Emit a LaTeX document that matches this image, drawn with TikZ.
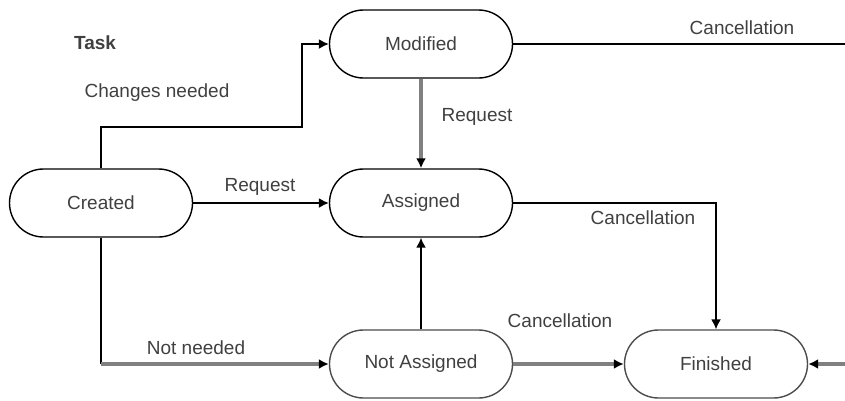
\documentclass[tikz,border=0pt]{standalone}
\usepackage{fontspec}
\setmainfont{Liberation Sans}
\usetikzlibrary{arrows.meta}

\tikzset{
  statebox/.style={draw, line width=1.4pt, rounded corners=34pt,
    minimum width=183pt, minimum height=68pt, inner sep=0pt,
    text=black!75, font=\fontsize{19}{22}\selectfont},
  flow/.style={line width=1.5pt, black},
  flowgray/.style={line width=3.2pt, black!50},
  tip/.style={-{Latex[length=10pt,width=10pt,color=black]}},
  lbl/.style={text=black!75, font=\fontsize{19}{22}\selectfont}
}

\begin{document}
\begin{tikzpicture}[x=1pt,y=-1pt]
  \useasboundingbox (0,0) rectangle (845,400);

  % states
  \node[statebox] (modified) at (421,44) {Modified};
  \node[statebox] (assigned) at (421,203) {Assigned};
  \node[statebox] (created) at (101,203) {Created};
  \node[statebox,draw=black!70] (notassigned) at (421,364) {Not Assigned};
  \node[statebox,draw=black!70] (finished) at (716,364) {Finished};

  \node[lbl,font=\fontsize{19}{22}\selectfont\bfseries] (title) at (95,43) {Task};

  % transitions
  \coordinate (bend) at (302,127);
  \draw[flow,tip] (created.north) |- (bend) |- (modified.west);
  \draw[flow,tip] (created) -- (assigned);
  \coordinate (lowcorner) at (created.south |- notassigned.west);
  \draw[flow] (created.south) -- (lowcorner);
  \draw[flowgray,tip] (lowcorner) -- (notassigned.west);
  \draw[flowgray,tip] (modified) -- (assigned);
  \draw[flow,tip] (notassigned) -- (assigned);
  \draw[flow,tip] (assigned.east) -| (finished.north);
  \draw[flowgray,tip] (notassigned) -- (finished);

  % the cancel loop runs off to the right
  \coordinate (outtop) at (845,44);
  \coordinate (outlow) at (845,364);
  \draw[flow] (modified) -- (outtop);
  \draw[flowgray,tip] (outlow) -- (finished);

  % labels
  \node[lbl] (lchange) at (157,93) {Changes needed};
  \node[lbl] (lreq1) at (260,187) {Request};
  \node[lbl] (lreq2) at (477,117) {Request};
  \node[lbl] (lnot) at (196,348) {Not needed};
  \node[lbl] (lcan1) at (742,28) {Cancellation};
  \node[lbl] (lcan2) at (643,218) {Cancellation};
  \node[lbl] (lcan3) at (560,321) {Cancellation};
\end{tikzpicture}
\end{document}
